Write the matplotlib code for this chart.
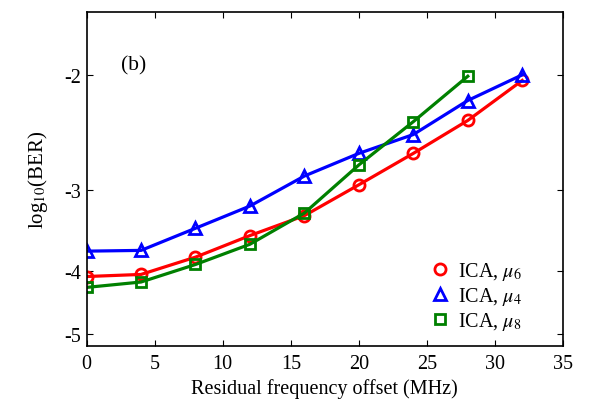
import matplotlib
matplotlib.use("Agg")
import matplotlib.pyplot as plt
from matplotlib.ticker import FixedLocator, NullLocator, FixedFormatter
from matplotlib.lines import Line2D

plt.rcParams['font.family'] = ['Liberation Serif', 'DejaVu Serif']
plt.rcParams['mathtext.fontset'] = 'stix'

offset = [0, 4, 8, 12, 16, 20, 24, 28, 32]
ber_mu6 = [-4.08, -4.05, -3.81, -3.53, -3.29, -2.95, -2.64, -2.35, -2.04]
ber_mu4 = [-3.73, -3.72, -3.44, -3.18, -2.86, -2.64, -2.47, -2.19, -2.00]
offset_mu8 = [0, 4, 8, 12, 16, 20, 24, 28]
ber_mu8 = [-4.24, -4.16, -3.91, -3.64, -3.26, -2.75, -2.36, -2.01]

yticks = [-2, -3, -4, -5]
xticks = [0, 5, 10, 15, 20, 25, 30, 35]

fig = plt.figure(figsize=(5.89, 4.02), dpi=100)
ax = fig.add_axes([0.147, 0.1376, 0.809, 0.8308])

def neg(v):
    return [-a for a in v]

lw = 2.3
ms = 8
mew = 2.0
ax.plot(offset, neg(ber_mu6), '-', color='red', lw=lw, marker='o', ms=ms,
        mfc='none', mew=mew)
ax.plot(offset, neg(ber_mu4), '-', color='blue', lw=lw, marker='^', ms=ms+1,
        mfc='none', mew=mew)
ax.plot(offset_mu8, neg(ber_mu8), '-', color='green', lw=lw, marker='s', ms=ms-1,
        mfc='none', mew=mew)

ax.set_yscale('log')
ax.set_ylim(5.21, 1.6)
ax.set_xlim(0, 35)
ax.yaxis.set_major_locator(FixedLocator([-t for t in yticks]))
ax.yaxis.set_major_formatter(FixedFormatter([str(t) for t in yticks]))
ax.yaxis.set_minor_locator(NullLocator())
ax.set_xticks(xticks)
ax.set_xticklabels([str(t) for t in xticks])

ax.tick_params(direction='in', length=4, width=0.8, labelsize=14.5, top=True, right=True)
ax.tick_params(axis='x', pad=6)
ax.tick_params(axis='y', pad=4)
for s in ax.spines.values():
    s.set_linewidth(1.2)

ax.set_xlabel('Residual frequency offset (MHz)', fontsize=14.5, labelpad=4)
ax.set_ylabel(r'log$_{\mathrm{10}}$(BER)', fontsize=15, labelpad=10)

ax.text(0.072, 0.828, '(b)', transform=ax.transAxes, fontsize=15.5)

h1 = Line2D([], [], ls='none', color='red', marker='o', ms=ms, mfc='none', mew=mew)
h2 = Line2D([], [], ls='none', color='blue', marker='^', ms=ms+1, mfc='none', mew=mew)
h3 = Line2D([], [], ls='none', color='green', marker='s', ms=ms-1, mfc='none', mew=mew)
ax.legend([h1, h2, h3], [r'ICA, $\mu_6$', r'ICA, $\mu_4$', r'ICA, $\mu_8$'],
          loc='lower right', bbox_to_anchor=(0.93, 0.018), frameon=False, fontsize=14.5,
          handlelength=1.0, handletextpad=0.4, labelspacing=0.15, borderaxespad=0.0)

fig.savefig('out.png', dpi=100)
